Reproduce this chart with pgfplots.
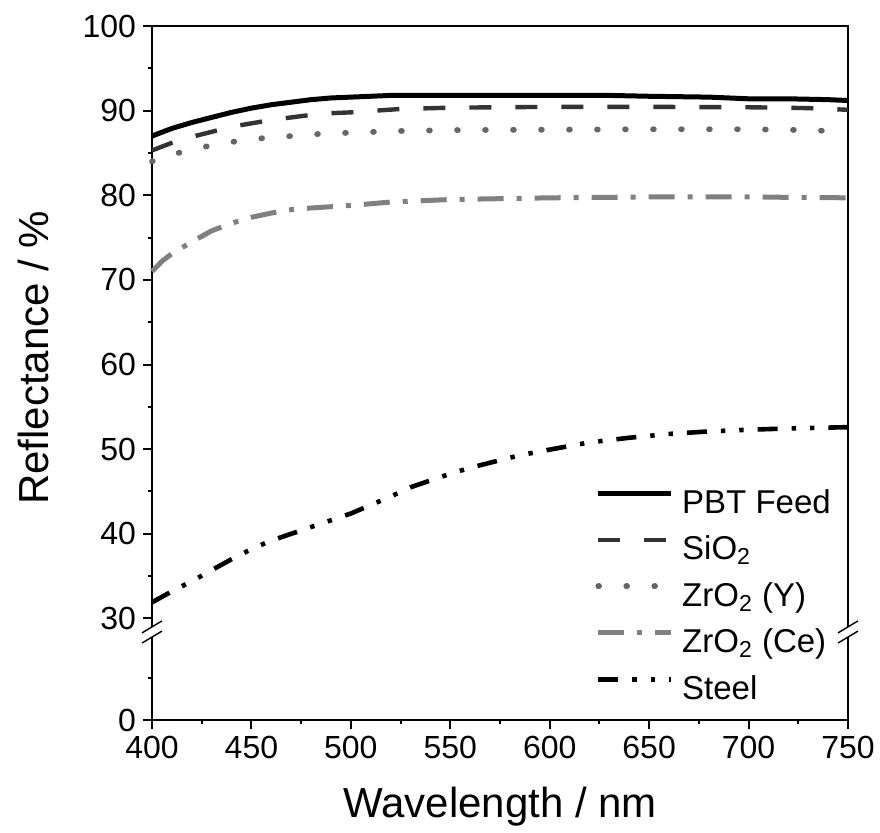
\documentclass[border=0pt]{standalone}
\usepackage{pgfplots}
\pgfplotsset{compat=1.18}
\usepackage{fontspec}
\setmainfont{Liberation Sans}
\definecolor{cSi}{HTML}{333333}
\definecolor{cY}{HTML}{666666}
\definecolor{cCe}{HTML}{808080}
\begin{document}
\begin{tikzpicture}
\useasboundingbox (-76pt,-56pt) rectangle (364pt,360pt);
\begin{axis}[
  at={(0,0)}, anchor=south west,
  scale only axis, width=348pt, height=347pt,
  xmin=400, xmax=750, ymin=0, ymax=82,
  clip=false,
  y filter/.expression={y-18},
  xtick={400,450,...,750},
  minor x tick num=1,
  ytick={0,12,22,32,42,52,62,72,82},
  yticklabels={0,30,40,50,60,70,80,90,100},
  minor ytick={5,17,27,37,47,57,67,77},
  xtick pos=bottom, ytick pos=left,
  tick align=outside,
  major tick length=4.5pt, minor tick length=2pt,
  every tick/.style={line width=1pt, black},
  axis line style={line width=1pt},
  /pgf/number format/assume math mode=true,
  /pgf/number format/1000 sep={},
  tick label style={font=\fontsize{16}{19}\selectfont},
  xlabel={Wavelength / nm},
  ylabel={Reflectance / \%},
  xlabel style={font=\fontsize{21}{25}\selectfont, at={(axis description cs:0.5,-0.125)}, anchor=center},
  ylabel style={font=\fontsize{21}{25}\selectfont, at={(axis description cs:-0.17,0.522)}, anchor=center},
  legend cell align=left,
  legend image code/.code={\draw[#1] (0pt,5.8pt) -- (36.5pt,5.8pt);},
  legend style={at={(0.6365,0.3330)}, anchor=north west, draw=none, fill=none,
    inner sep=0pt, row sep=7.6pt,
    font=\fontsize{16.5}{19}\selectfont,
    nodes={inner sep=0pt, text height=12pt, text depth=3.65pt},
    /tikz/every odd column/.style={column sep=4pt}},
]
\addplot[black, line width=2.5pt, line join=round] coordinates {
(400,87.0) (410,87.9) (420,88.6) (430,89.2) (440,89.8) (450,90.3) (460,90.7) (470,91.0) (480,91.3) (490,91.5) (500,91.6) (520,91.8) (550,91.8) (600,91.8) (630,91.8) (650,91.7) (680,91.6) (700,91.4) (720,91.4) (740,91.3) (750,91.2)};
\addlegendentry{PBT Feed}
\addplot[cSi, line width=2.2pt, line join=round, dash pattern=on 11pt off 12pt] coordinates {
(400,85.3) (410,86.2) (420,86.9) (430,87.5) (440,88.1) (450,88.5) (460,88.9) (470,89.2) (480,89.5) (490,89.7) (500,89.8) (525,90.2) (550,90.35) (600,90.45) (650,90.45) (700,90.4) (730,90.3) (750,90.1)};
\addlegendentry{SiO\textsubscript{2}}
\addplot[cY, line width=2.9pt, line cap=round, dash pattern=on 0.4pt off 13.6pt] coordinates {
(400,84.0) (410,84.8) (420,85.4) (430,85.9) (440,86.3) (450,86.6) (460,86.85) (470,87.0) (480,87.2) (500,87.4) (525,87.6) (550,87.7) (600,87.75) (650,87.8) (700,87.8) (730,87.7) (750,87.5)};
\addlegendentry{ZrO\textsubscript{2} (Y)}
\addplot[cCe, line width=2.5pt, line join=round, dash pattern=on 13pt off 6.5pt on 2.5pt off 6.5pt] coordinates {
(400,71.0) (405,72.2) (410,73.1) (420,74.5) (430,75.8) (440,76.7) (450,77.4) (460,77.9) (470,78.3) (480,78.5) (500,78.8) (520,79.2) (550,79.5) (600,79.7) (650,79.8) (700,79.8) (750,79.7)};
\addlegendentry{ZrO\textsubscript{2} (Ce)}
\addplot[black, line width=2.3pt, line join=round, dash pattern=on 10pt off 7pt on 2.2pt off 7pt on 2.2pt off 7pt] coordinates {
(400,31.9) (410,33.2) (420,34.4) (430,35.7) (440,37.0) (450,38.2) (460,39.2) (470,40.0) (480,40.8) (490,41.6) (500,42.4) (510,43.4) (520,44.4) (530,45.5) (540,46.3) (550,47.1) (560,47.8) (570,48.4) (580,49.0) (590,49.5) (600,49.95) (620,50.8) (640,51.35) (660,51.8) (680,52.1) (700,52.3) (720,52.45) (740,52.55) (750,52.6)};
\addlegendentry{Steel}
% axis break marks
\fill[white] ([xshift=-3pt]axis cs:400,9.8) rectangle ([xshift=3pt]axis cs:400,11.0);
\fill[white] ([xshift=-3pt]axis cs:750,9.8) rectangle ([xshift=3pt]axis cs:750,11.0);
\draw[line width=0.7pt] ([xshift=-5pt,yshift=-3pt]axis cs:400,11.0) -- ([xshift=5pt,yshift=3pt]axis cs:400,11.0);
\draw[line width=0.7pt] ([xshift=-5pt,yshift=-3pt]axis cs:400,9.8) -- ([xshift=5pt,yshift=3pt]axis cs:400,9.8);
\draw[line width=0.7pt] ([xshift=-5pt,yshift=-3pt]axis cs:750,11.0) -- ([xshift=5pt,yshift=3pt]axis cs:750,11.0);
\draw[line width=0.7pt] ([xshift=-5pt,yshift=-3pt]axis cs:750,9.8) -- ([xshift=5pt,yshift=3pt]axis cs:750,9.8);
\end{axis}
\end{tikzpicture}
\end{document}
